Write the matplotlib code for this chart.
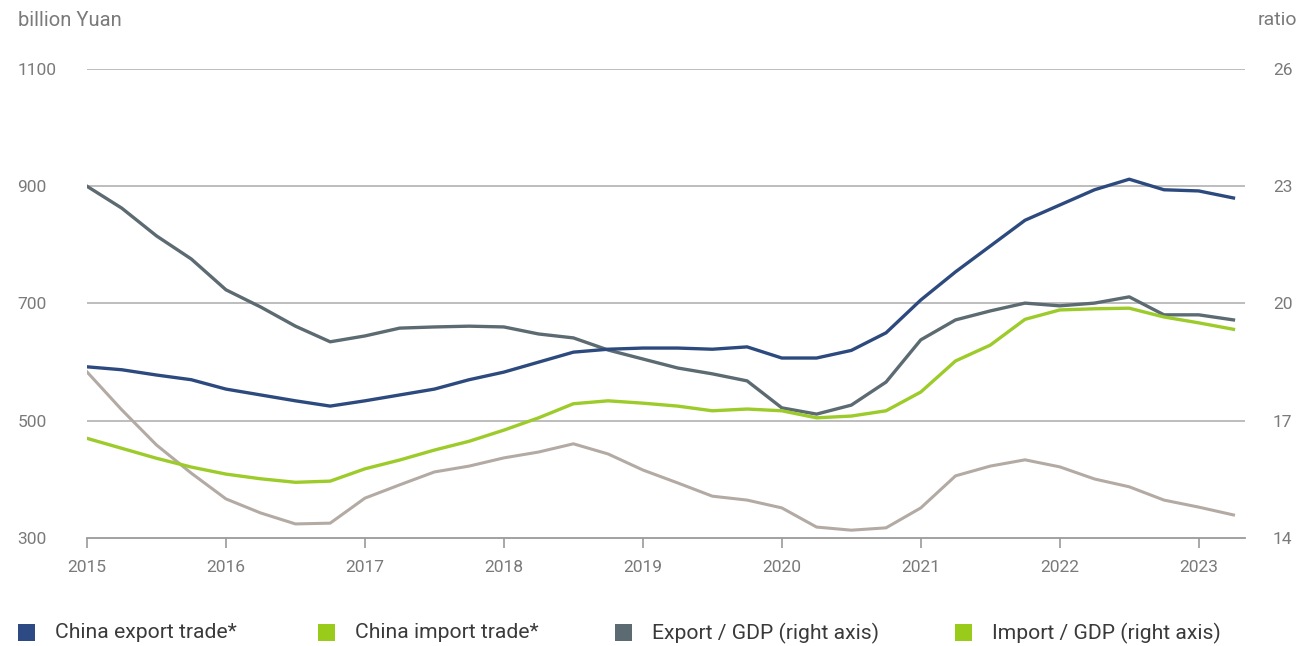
import numpy as np
import matplotlib
matplotlib.use('Agg')
import matplotlib.pyplot as plt
from matplotlib.patches import Rectangle

plt.rcParams['font.family'] = ['Roboto', 'DejaVu Sans']

# quarterly observations, 2015 Q1 .. 2023 Q2
quarters = 2015 + 0.25 * np.arange(34)

export_trade = [592, 587, 578, 570, 554, 544, 534, 525, 534, 544, 554, 570,
                583, 600, 617, 622, 624, 624, 622, 626, 607, 607, 620, 650,
                706, 754, 798, 842, 868, 894, 912, 894, 892, 880]
import_trade = [470, 453, 436, 421, 409, 401, 395, 397, 418, 433, 450, 465,
                484, 505, 529, 534, 530, 525, 517, 520, 517, 505, 508, 517,
                549, 602, 629, 673, 689, 691, 692, 677, 667, 656]
export_gdp = [23.0, 22.44, 21.73, 21.14, 20.35, 19.91, 19.42, 19.02, 19.17, 19.37,
              19.40, 19.42, 19.40, 19.22, 19.12, 18.81, 18.58, 18.35, 18.20, 18.02,
              17.33, 17.17, 17.40, 17.99, 19.07, 19.58, 19.81, 20.01, 19.94, 20.01,
              20.17, 19.71, 19.71, 19.58]
import_gdp = [18.25, 17.28, 16.38, 15.66, 15.0, 14.64, 14.36, 14.38, 15.02, 15.36,
              15.69, 15.84, 16.05, 16.20, 16.41, 16.15, 15.74, 15.41, 15.07, 14.97,
              14.77, 14.28, 14.20, 14.26, 14.77, 15.59, 15.84, 16.0, 15.82, 15.51,
              15.31, 14.97, 14.79, 14.59]

years = list(range(2015, 2024))
left_ticks = [300, 500, 700, 900, 1100]
right_ticks = [14, 17, 20, 23, 26]

legend_labels = ['China export trade*', 'China import trade*',
                 'Export / GDP (right axis)', 'Import / GDP (right axis)']
legend_colors = ['#2d4a85', '#99cc1a', '#5c6a72', '#99cc1a']

c_export, c_import, c_exgdp, c_imgdp = '#2d4a7e', '#9ccb2a', '#5c6a72', '#b3aaa4'
tick_grey = '#7a7a7a'

fig = plt.figure(figsize=(13.01, 6.46), dpi=100)
ax = fig.add_axes([87/1301, 1-538/646, (1245-87)/1301, (538-69)/646])
ax2 = ax.twinx()

ax2.plot(quarters, import_gdp, color=c_imgdp, lw=2.2, zorder=2)
ax2.plot(quarters, export_gdp, color=c_exgdp, lw=2.4, zorder=3)
ax.plot(quarters, import_trade, color=c_import, lw=2.4, zorder=3)
ax.plot(quarters, export_trade, color=c_export, lw=2.4, zorder=4)

# left axis lines need to sit above the twin axis
ax.set_zorder(ax2.get_zorder() + 1)
ax.patch.set_visible(False)

ax.set_xlim(2015, 2023.333)
ax.set_ylim(300, 1100)
ax2.set_ylim(14, 26)

for y in left_ticks[1:]:
    ax2.axhline(14 + (y - 300) / 800 * 12, color='#b8b8b8', lw=1.3, zorder=1)

for a in (ax, ax2):
    for s in a.spines.values():
        s.set_visible(False)
ax.spines['bottom'].set_visible(True)
ax.spines['bottom'].set_color('#9a9a9a')
ax.spines['bottom'].set_linewidth(1.3)

ax.set_xticks(years)
ax.set_xticklabels([str(y) for y in years], fontsize=12.5, color=tick_grey)
ax.tick_params(axis='x', length=7, width=1.2, color='#9a9a9a', pad=9)

ax.set_yticks(left_ticks)
ax.set_yticklabels([str(v) for v in left_ticks], fontsize=12.5, color=tick_grey,
                   ha='left')
ax.tick_params(axis='y', length=0, pad=50)

ax2.set_yticks(right_ticks)
ax2.set_yticklabels([str(v) for v in right_ticks], fontsize=12.5, color=tick_grey)
ax2.tick_params(axis='y', length=0, pad=20)

fig.text(18/1301, 1-20/646, 'billion Yuan', fontsize=14.5, color=tick_grey,
         va='center', ha='left')
fig.text(1297/1301, 1-20/646, 'ratio', fontsize=14, color=tick_grey,
         va='center', ha='right')

# legend row along the bottom
legend_x = [18, 318, 615, 955]
for x, lab, col in zip(legend_x, legend_labels, legend_colors):
    fig.add_artist(Rectangle((x/1301, 1-641/646), 17/1301, 17/646,
                             transform=fig.transFigure, color=col, lw=0))
    fig.text((x + 37)/1301, 1-633/646, lab, fontsize=15.2, color='#3a3a3a',
             va='center', ha='left')

fig.savefig('out.png', dpi=100)
